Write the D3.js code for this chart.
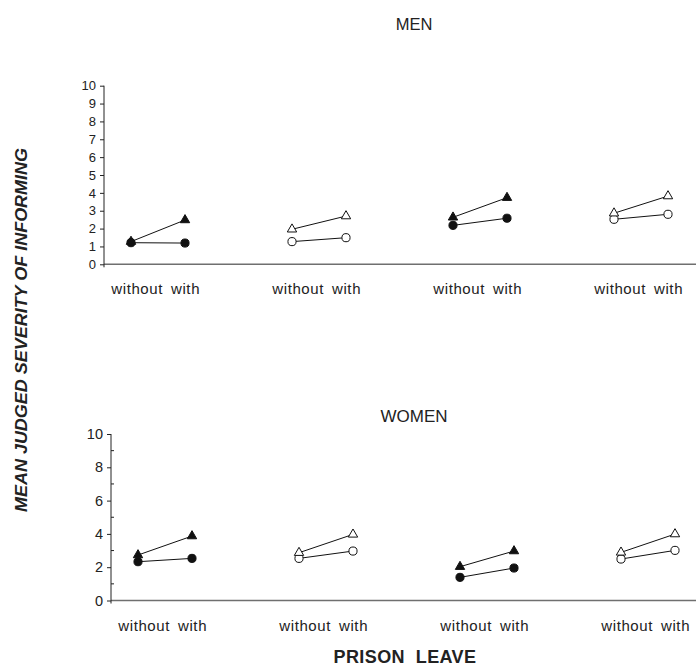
<!DOCTYPE html>
<html>
<head>
  <meta charset="utf-8">
  <script src="https://d3js.org/d3.v7.min.js"></script>
  <style>
    body { margin: 0; background: #fff; }
    svg { display: block; background: #fff; font-family: "Liberation Sans", Arial, sans-serif; }
    .tick text { fill: #222; }
  </style>
</head>
<body>
  <svg id="chart" width="696" height="667"></svg>
  <script>
    // groups of the design (four conditions, no names shown), two levels of prison leave
    var conditions = [0, 1, 2, 3];
    var leave = ["without", "with"];
    var filledGroup = [true, false, true, false];

    // mean judged severity, [without, with] per condition
    var menTriangle   = [[1.27, 2.48], [1.96, 2.70], [2.63, 3.73], [2.86, 3.82]];
    var menCircle     = [[1.21, 1.19], [1.27, 1.49], [2.18, 2.58], [2.52, 2.80]];
    var womenTriangle = [[2.73, 3.87], [2.87, 3.97], [2.03, 2.97], [2.89, 3.99]];
    var womenCircle   = [[2.33, 2.53], [2.53, 2.97], [1.39, 1.95], [2.49, 3.01]];

    var menTicks = [0, 1, 2, 3, 4, 5, 6, 7, 8, 9, 10];
    var womenTicks = [0, 2, 4, 6, 8, 10];
    var womenMinor = [1, 3, 5, 7, 9];

    var svg = d3.select("#chart"),
      width = +svg.attr("width"),
      height = +svg.attr("height");

    var triangle = d3.symbol().type(d3.symbolTriangle).size(38);
    var circle = d3.symbol().type(d3.symbolCircle).size(52);

    function panel(opt) {
      var g = svg.append("g");

      var xGroup = d3.scaleBand()
        .domain(conditions)
        .range([opt.left, opt.left + 644]);
      var xLeave = d3.scalePoint()
        .domain(leave)
        .range([27, 81]);
      var y = d3.scaleLinear()
        .domain([0, 10])
        .range([opt.bottom, opt.top]);

      function px(i, k) { return xGroup(i) + xLeave(leave[k]); }

      // x axis (grey baseline)
      g.append("line")
        .attr("x1", opt.left).attr("x2", width)
        .attr("y1", y(0)).attr("y2", y(0))
        .attr("stroke", "#6f6f6f")
        .attr("stroke-width", 1.4);

      // y axis
      var yAxis = d3.axisLeft(y)
        .tickValues(opt.ticks)
        .tickSize(4)
        .tickPadding(opt.pad)
        .tickFormat(d3.format("d"));
      var ya = g.append("g")
        .attr("transform", "translate(" + opt.left + ",0)")
        .call(yAxis);
      ya.select(".domain").remove();
      ya.selectAll(".tick line").attr("stroke", "#222");
      ya.selectAll(".tick text").style("font-size", opt.tickFont + "px");
      g.append("line")
        .attr("x1", opt.left).attr("x2", opt.left)
        .attr("y1", y(10)).attr("y2", y(0) + 3)
        .attr("stroke", "#222");

      if (opt.minor) {
        g.selectAll(".minor")
          .data(opt.minor)
          .enter().append("line")
          .attr("x1", opt.left).attr("x2", opt.left + 3)
          .attr("y1", function (d) { return y(d); })
          .attr("y2", function (d) { return y(d); })
          .attr("stroke", "#222");
      }

      // category labels under each pair
      conditions.forEach(function (i) {
        g.append("text")
          .attr("x", px(i, 1) - 22)
          .attr("y", opt.labelY)
          .attr("text-anchor", "end")
          .style("font-size", "15px")
          .style("letter-spacing", "0.6px")
          .attr("fill", "#222")
          .text("without");
        g.append("text")
          .attr("x", px(i, 1) - 14)
          .attr("y", opt.labelY)
          .style("font-size", "15px")
          .style("letter-spacing", "0.6px")
          .attr("fill", "#222")
          .text("with");
      });

      // lines + markers for each series
      var series = [
        { vals: opt.circle, sym: circle },
        { vals: opt.triangle, sym: triangle }
      ];
      series.forEach(function (s) {
        conditions.forEach(function (i) {
          var pts = s.vals[i].map(function (v, k) { return [px(i, k), y(v)]; });
          g.append("path")
            .attr("d", d3.line()(pts))
            .attr("fill", "none")
            .attr("stroke", "#111")
            .attr("stroke-width", 1);
          g.selectAll(null)
            .data(pts)
            .enter().append("path")
            .attr("transform", function (d) { return "translate(" + d[0] + "," + d[1] + ")"; })
            .attr("d", s.sym)
            .attr("fill", filledGroup[i] ? "#111" : "#fff")
            .attr("stroke", "#111")
            .attr("stroke-width", 1);
        });
      });

      // panel title
      svg.append("text")
        .attr("x", opt.titleX)
        .attr("y", opt.titleY)
        .attr("text-anchor", "middle")
        .style("font-size", opt.titleFont + "px")
        .attr("fill", "#222")
        .text(opt.title);
    }

    panel({
      title: "MEN", titleX: 414, titleY: 30, titleFont: 16.5,
      left: 104, top: 85.7, bottom: 264.3,
      ticks: menTicks, pad: 4, tickFont: 13,
      labelY: 294,
      triangle: menTriangle, circle: menCircle
    });

    panel({
      title: "WOMEN", titleX: 414, titleY: 422, titleFont: 17,
      left: 111, top: 434, bottom: 600.5,
      ticks: womenTicks, minor: womenMinor, pad: 4, tickFont: 14.5,
      labelY: 631,
      triangle: womenTriangle, circle: womenCircle
    });

    // axis titles
    svg.append("text")
      .attr("x", 405)
      .attr("y", 663)
      .attr("text-anchor", "middle")
      .style("font-size", "18px")
      .style("font-weight", "bold")
      .style("letter-spacing", "0.4px")
      .style("white-space", "pre")
      .attr("fill", "#222")
      .text("PRISON  LEAVE");

    svg.append("text")
      .attr("transform", "translate(27,330) rotate(-90)")
      .attr("text-anchor", "middle")
      .attr("textLength", 364)
      .attr("lengthAdjust", "spacingAndGlyphs")
      .style("font-size", "16px")
      .style("font-weight", "bold")
      .style("font-style", "italic")
      .attr("fill", "#222")
      .text("MEAN JUDGED SEVERITY OF INFORMING");
  </script>
</body>
</html>
